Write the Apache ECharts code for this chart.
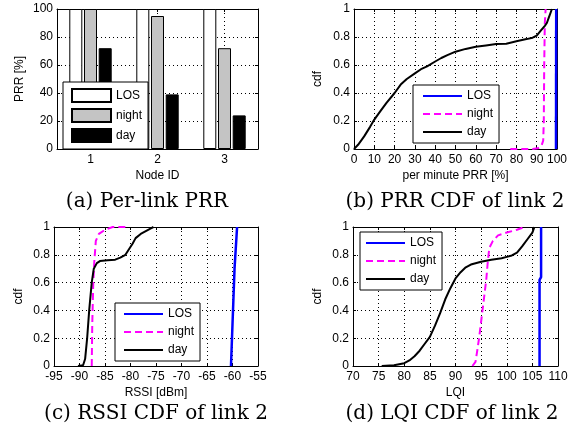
<!DOCTYPE html>
<html>
<head>
<meta charset="utf-8">
<script src="https://cdn.jsdelivr.net/npm/echarts@6/dist/echarts.min.js"></script>
<style>
  html, body { margin: 0; padding: 0; background: #fff; }
  #chart { width: 575px; height: 432px; }
</style>
</head>
<body>
<div id="chart"></div>
<script>
// --- data ---
const nodeIds = ['1', '2', '3'];
const prrLos = [100, 100, 100];
const prrNight = [100, 95, 72];
const prrDay = [72, 39, 24];

// (b) per minute PRR cdf of link 2
const prrLosX = [99.5, 99.6];
const prrLosY = [0, 1];
const prrNightX = [77, 88, 90.5, 92.3, 93.2, 93.5, 93.7, 94.0, 94.4];
const prrNightY = [0, 0, 0.005, 0.02, 0.06, 0.2, 0.6, 0.9, 1];
const prrDayX = [0, 2, 5, 8, 10, 13, 16, 20, 23, 26, 30, 33, 36, 40, 43, 46, 50, 55, 60, 65, 70, 75, 80, 85, 88, 90, 92, 94, 95, 96, 97.5];
const prrDayY = [0, 0.03, 0.09, 0.16, 0.21, 0.27, 0.33, 0.40, 0.46, 0.5, 0.54, 0.57, 0.59, 0.625, 0.65, 0.67, 0.695, 0.715, 0.73, 0.74, 0.75, 0.752, 0.77, 0.785, 0.795, 0.81, 0.845, 0.88, 0.9, 0.94, 1];

// (c) RSSI cdf of link 2
const rssiLosX = [-60.3, -60.0, -59.6, -59.1];
const rssiLosY = [0, 0.3, 0.7, 1];
const rssiNightX = [-87.6, -87.5, -87.3, -87.1, -86.8, -86.2, -85.0, -83.5, -80.5];
const rssiNightY = [0, 0.3, 0.6, 0.75, 0.9, 0.95, 0.98, 1, 1];
const rssiDayX = [-90.3, -89.3, -88.9, -88.5, -88.1, -87.6, -87.2, -86.6, -86.0, -84.5, -83.0, -82.0, -81.0, -80.3, -79.6, -79.0, -78.0, -77.0, -76.0, -75.5];
const rssiDayY = [0, 0.005, 0.05, 0.2, 0.4, 0.6, 0.7, 0.74, 0.755, 0.76, 0.765, 0.78, 0.8, 0.84, 0.88, 0.92, 0.95, 0.97, 0.99, 1];

// (d) LQI cdf of link 2
const lqiLosX = [106.4, 106.4, 106.7, 106.7];
const lqiLosY = [0, 0.62, 0.64, 1];
const lqiNightX = [93.3, 93.9, 94.2, 94.6, 95.1, 95.6, 96.0, 96.3, 96.6, 97.3, 98.3, 100, 102, 103.5];
const lqiNightY = [0, 0.03, 0.1, 0.2, 0.35, 0.5, 0.62, 0.75, 0.85, 0.9, 0.94, 0.96, 0.98, 1];
const lqiDayX = [75.6, 78, 80, 81, 82, 83, 84, 85, 86, 87, 88, 89, 90, 91, 92, 93, 95, 97, 99, 100, 101, 102, 103, 104, 105, 105.4];
const lqiDayY = [0, 0.005, 0.02, 0.04, 0.07, 0.11, 0.16, 0.21, 0.29, 0.38, 0.48, 0.56, 0.63, 0.675, 0.71, 0.73, 0.75, 0.765, 0.775, 0.785, 0.795, 0.815, 0.86, 0.91, 0.96, 1];

const captions = ['(a) Per-link PRR', '(b) PRR CDF of link 2', '(c) RSSI CDF of link 2', '(d) LQI CDF of link 2'];

// --- helpers ---
const SANS = 'Liberation Sans';
const SERIF = 'DejaVu Serif';
const zip = (xs, ys) => xs.map((x, i) => [x, ys[i]]);
const dotted = { show: true, lineStyle: { color: '#000', width: 1, type: [1, 3] } };
const blackLine = { show: true, onZero: false, lineStyle: { color: '#000', width: 1 } };
const inTick = { show: true, inside: true, length: 3, lineStyle: { color: '#000' } };
const labelStyle = { color: '#000', fontFamily: SANS, fontSize: 12 };
const nameStyle = { color: '#000', fontFamily: SANS, fontSize: 12 };

// a pair of value axes (labelled one + mirrored one) so every panel gets a closed, ticked box
function valuePair(gridIndex, dim, range, name, nameGap) {
    const first = dim === 'x' ? 'bottom' : 'left';
    const second = dim === 'x' ? 'top' : 'right';
    const base = { type: 'value', gridIndex, min: range[0], max: range[1], interval: range[2],
        axisLine: blackLine, axisTick: inTick };
    return [
        Object.assign({}, base, { position: first, splitLine: dotted,
            axisLabel: Object.assign({ margin: dim === 'x' ? 5 : 4 }, labelStyle),
            name, nameLocation: 'middle', nameGap, nameTextStyle: nameStyle }),
        Object.assign({}, base, { position: second, splitLine: { show: false }, axisLabel: { show: false } })
    ];
}

function cdfLegend(gridIndex, left, top, padLeft) {
    return {
        orient: 'vertical', left, top, itemWidth: 39, itemHeight: 12, itemGap: 6,
        padding: [5, 6, 5, padLeft], backgroundColor: '#fff', borderColor: '#000', borderWidth: 1,
        borderRadius: 0, selectedMode: false, textStyle: labelStyle,
        itemStyle: { opacity: 0 },  // line only, no marker in the swatch
        data: ['LOS', 'night', 'day'].map(n => 'cdf' + gridIndex + n),
        formatter: n => n.slice(4)
    };
}

function cdfSeries(gridIndex, los, night, day) {
    const axisIdx = gridIndex * 2;
    const common = { type: 'line', xAxisIndex: axisIdx, yAxisIndex: axisIdx, symbol: 'none', showSymbol: false, clip: true };
    return [
        Object.assign({}, common, { name: 'cdf' + gridIndex + 'LOS', data: los, lineStyle: { color: '#0000ff', width: 2.5 }, itemStyle: { color: '#0000ff' } }),
        Object.assign({}, common, { name: 'cdf' + gridIndex + 'night', data: night, lineStyle: { color: '#ff00ff', width: 2, type: [7, 4] }, itemStyle: { color: '#ff00ff' } }),
        Object.assign({}, common, { name: 'cdf' + gridIndex + 'day', data: day, lineStyle: { color: '#000000', width: 2 }, itemStyle: { color: '#000' } })
    ];
}

const grids = [
    { left: 57, top: 9, width: 201, height: 140 },
    { left: 354, top: 9, width: 203, height: 140 },
    { left: 54, top: 227, width: 204, height: 139 },
    { left: 353, top: 227, width: 205, height: 139 }
];

// panel (a): category axis for bars, value overlay at top for the 1/2/3 grid lines
const xAxes = [
    { type: 'category', gridIndex: 0, position: 'bottom', data: nodeIds,
      axisLine: blackLine, axisTick: Object.assign({ alignWithLabel: true }, inTick),
      axisLabel: Object.assign({ margin: 5 }, labelStyle), splitLine: { show: false },
      name: 'Node ID', nameLocation: 'middle', nameGap: 21, nameTextStyle: nameStyle },
    { type: 'value', gridIndex: 0, position: 'top', min: 0.5, max: 3.5, splitNumber: 3,
      axisLine: blackLine, axisTick: inTick, axisLabel: { show: false }, splitLine: dotted },
    ...valuePair(1, 'x', [0, 100, 10], 'per minute PRR [%]', 21),
    ...valuePair(2, 'x', [-95, -55, 5], 'RSSI [dBm]', 21),
    ...valuePair(3, 'x', [70, 110, 5], 'LQI', 21)
];
const yAxes = [
    ...valuePair(0, 'y', [0, 100, 20], 'PRR [%]', 31),
    ...valuePair(1, 'y', [0, 1, 0.2], 'cdf', 30),
    ...valuePair(2, 'y', [0, 1, 0.2], 'cdf', 29),
    ...valuePair(3, 'y', [0, 1, 0.2], 'cdf', 29)
];

const barCommon = { type: 'bar', xAxisIndex: 0, yAxisIndex: 0, barWidth: 13, barGap: '13%' };

const series = [
    Object.assign({}, barCommon, { name: 'barLOS', data: prrLos, itemStyle: { color: '#ffffff', borderColor: '#000', borderWidth: 1 } }),
    Object.assign({}, barCommon, { name: 'barnight', data: prrNight, itemStyle: { color: '#c4c4c4', borderColor: '#000', borderWidth: 1 } }),
    Object.assign({}, barCommon, { name: 'barday', data: prrDay, itemStyle: { color: '#000000', borderColor: '#000', borderWidth: 1 } }),
    ...cdfSeries(1, zip(prrLosX, prrLosY), zip(prrNightX, prrNightY), zip(prrDayX, prrDayY)),
    ...cdfSeries(2, zip(rssiLosX, rssiLosY), zip(rssiNightX, rssiNightY), zip(rssiDayX, rssiDayY)),
    ...cdfSeries(3, zip(lqiLosX, lqiLosY), zip(lqiNightX, lqiNightY), zip(lqiDayX, lqiDayY))
];

const legends = [
    { orient: 'vertical', left: 63, top: 82, itemWidth: 39, itemHeight: 13, itemGap: 5,
      padding: [6, 6, 6, 8], backgroundColor: '#fff', borderColor: '#000', borderWidth: 1,
      selectedMode: false, textStyle: labelStyle, icon: 'rect',
      data: ['barLOS', 'barnight', 'barday'], formatter: n => n.slice(3) },
    cdfLegend(1, 413, 85, 9),
    cdfLegend(2, 115, 303, 8),
    cdfLegend(3, 360, 232, 5)
];

const captionPos = [[147, 202], [455, 202], [156, 414], [452, 414]];
const graphic = captions.map((t, i) => ({
    type: 'text', x: captionPos[i][0], y: captionPos[i][1], silent: true,
    style: { text: t, font: '20px "' + SERIF + '"', fill: '#000', align: 'center', verticalAlign: 'middle' }
}));

const chart = echarts.init(document.getElementById('chart'));
chart.setOption({
    animation: false,
    backgroundColor: '#fff',
    grid: grids,
    xAxis: xAxes,
    yAxis: yAxes,
    legend: legends,
    series,
    graphic
});
</script>
</body>
</html>
